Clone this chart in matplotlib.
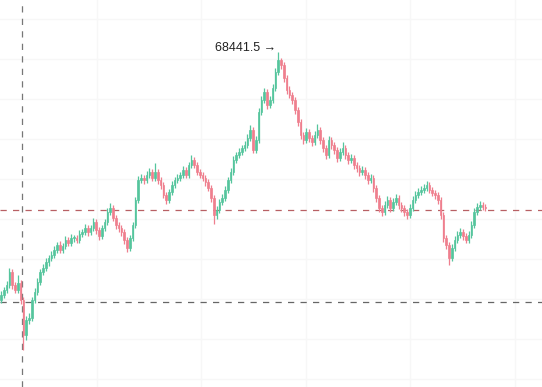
"""Candlestick chart with peak marker and reference lines."""
import matplotlib
matplotlib.use("Agg")
import matplotlib.pyplot as plt
from matplotlib.patches import Rectangle

# ── data ────────────────────────────────────────────────────────────────
FIRST_OPEN = 58520

closes = [
    58720, 58920, 59120, 59640, 59120, 58920, 59200, 58520, 57120, 57720,
    57800, 58520, 58840, 59240, 59640, 59800, 60040, 60200, 60320, 60520,
    60720, 60520, 60680, 60920, 60800, 61000, 61000, 60920, 61160, 61240,
    61400, 61240, 61400, 61640, 61320, 61080, 61400, 61640, 62040, 62200,
    61800, 61520, 61400, 61240, 60920, 60600, 61000, 61520, 62520, 63320,
    63400, 63320, 63520, 63640, 63400, 63640, 63320, 63120, 62720, 62520,
    62840, 63120, 63320, 63400, 63520, 63720, 63520, 63920, 64120, 63920,
    63640, 63520, 63400, 63240, 63000, 62600, 61920, 62120, 62440, 62600,
    62920, 63320, 63640, 64120, 64320, 64440, 64600, 64720, 65000, 65320,
    64520, 64920, 66040, 66520, 66840, 66320, 66520, 67000, 67640, 68120,
    67920, 67400, 66920, 66720, 66520, 66120, 65640, 65120, 64920, 65240,
    65000, 64840, 65120, 65320, 64920, 64600, 64320, 64920, 64720, 64520,
    64200, 64440, 64600, 64320, 64120, 64200, 63920, 63800, 63640, 63720,
    63520, 63320, 63400, 63000, 62600, 62200, 62040, 62320, 62520, 62200,
    62440, 62600, 62320, 62200, 62040, 61920, 62200, 62520, 62720, 62840,
    62920, 63000, 63120, 62920, 62800, 62720, 62520, 61920, 61000, 60720,
    60200, 60600, 60920, 61120, 61240, 61080, 60920, 61120, 61520, 62040,
    62240, 62320, 62240, 62200,
]

highs = [
    58880, 59040, 59280, 59800, 59760, 59240, 59520, 59320, 58640, 57880,
    58000, 58640, 59000, 59400, 59760, 59960, 60200, 60320, 60480, 60680,
    60840, 60880, 60800, 61080, 61040, 61160, 61120, 61120, 61320, 61360,
    61560, 61520, 61520, 61800, 61760, 61440, 61520, 61760, 62200, 62400,
    62320, 61920, 61640, 61520, 61360, 61040, 61120, 61640, 62640, 63480,
    63560, 63520, 63680, 63800, 63760, 64000, 63760, 63440, 63240, 62840,
    62960, 63280, 63440, 63560, 63640, 63880, 63840, 64040, 64320, 64240,
    64040, 63760, 63640, 63520, 63360, 63120, 62720, 62280, 62560, 62760,
    63080, 63440, 63800, 64280, 64440, 64600, 64720, 64880, 65160, 65520,
    65440, 65080, 66200, 66680, 67000, 66960, 66680, 67160, 67800, 68441.5,
    68200, 68040, 67520, 67080, 66840, 66640, 66240, 65760, 65240, 65400,
    65360, 65120, 65280, 65560, 65440, 65040, 64720, 65080, 65040, 64840,
    64640, 64600, 64840, 64720, 64440, 64360, 64320, 64040, 63920, 63880,
    63840, 63640, 63560, 63520, 63120, 62720, 62320, 62480, 62680, 62640,
    62600, 62760, 62720, 62440, 62320, 62160, 62360, 62680, 62880, 63000,
    63080, 63160, 63280, 63240, 63040, 62920, 62840, 62640, 62040, 61120,
    60840, 60760, 61080, 61280, 61400, 61360, 61200, 61280, 61680, 62200,
    62400, 62480, 62440, 62360,
]

lows = [
    58400, 58600, 58800, 59000, 58960, 58800, 58800, 58360, 56520, 56920,
    57560, 57680, 58400, 58720, 59120, 59520, 59680, 59880, 60080, 60200,
    60400, 60400, 60400, 60560, 60680, 60680, 60840, 60800, 60800, 61040,
    61120, 61080, 61120, 61280, 61160, 60920, 60960, 61280, 61520, 61920,
    61680, 61360, 61240, 61080, 60760, 60440, 60480, 60880, 61400, 62400,
    63200, 63160, 63200, 63400, 63280, 63280, 63160, 62960, 62600, 62360,
    62400, 62720, 63000, 63200, 63280, 63400, 63400, 63400, 63800, 63800,
    63520, 63400, 63280, 63080, 62880, 62440, 61560, 61760, 62000, 62320,
    62480, 62800, 63200, 63520, 64000, 64200, 64320, 64480, 64600, 64880,
    64400, 64400, 64800, 65920, 66400, 66160, 66200, 66400, 66880, 67520,
    67760, 67240, 66760, 66600, 66360, 65960, 65480, 64960, 64760, 64800,
    64840, 64680, 64720, 65000, 64760, 64440, 64160, 64200, 64560, 64360,
    64040, 64080, 64320, 64160, 63960, 64000, 63760, 63640, 63480, 63520,
    63360, 63160, 63200, 62840, 62440, 62040, 61880, 61920, 62200, 62040,
    62080, 62320, 62160, 62040, 61880, 61760, 61800, 62080, 62400, 62600,
    62720, 62800, 62880, 62800, 62680, 62560, 62360, 61760, 60840, 60560,
    59920, 60080, 60480, 60800, 61000, 60920, 60800, 60800, 61000, 61400,
    61920, 62120, 62120, 62080,
]

opens = [FIRST_OPEN] + closes[:-1]

LAST_PRICE_LINE = 62120
LOW_LINE = 58440
MARKER_INDEX = 7.5

UP_COLOR = "#55c59d"
DOWN_COLOR = "#ef7f8e"

# ── figure ──────────────────────────────────────────────────────────────
fig = plt.figure(figsize=(5.42, 3.87), dpi=100)
ax = fig.add_axes([0, 0, 1, 1])

# pixel mapping: ~2.8 px per candle, 40 price units per px
px_per_bar = 2.8
ax.set_xlim(-1 / px_per_bar, (542 - 1) / px_per_bar)
ax.set_ylim(70520 - 40 * 387, 70520)

# faint grid
ax.set_xticks([34.3 + 37.3 * k for k in range(5)])
ax.set_yticks([69760 - 1600 * k for k in range(10)])
ax.grid(True, color="#f7f7f7", lw=1)
ax.tick_params(length=0, labelbottom=False, labelleft=False)
for s in ax.spines.values():
    s.set_visible(False)
ax.set_axisbelow(True)

# candles
body_w = 0.55
for i, (o, h, l, c) in enumerate(zip(opens, highs, lows, closes)):
    col = UP_COLOR if c >= o else DOWN_COLOR
    ax.vlines(i, l, h, color=col, lw=0.9, zorder=3)
    bottom = min(o, c)
    height = max(abs(c - o), 40)
    ax.add_patch(Rectangle((i - body_w / 2, bottom), body_w, height,
                           facecolor=col, edgecolor=col, lw=0.5, zorder=3))

# reference lines
ax.axhline(LAST_PRICE_LINE, color="#b86064", lw=0.9, ls=(0, (5, 5)), zorder=2)
ax.axhline(LOW_LINE, color="#666666", lw=0.9, ls=(0, (5, 5)), zorder=2)
ax.axvline(MARKER_INDEX, color="#777777", lw=0.9, ls=(0, (5, 5)), zorder=2)

# peak label
peak_i = max(range(len(highs)), key=lambda k: highs[k])
ax.text(peak_i - 0.8, highs[peak_i] + 150, f"{highs[peak_i]:.1f} →",
        ha="right", va="center", fontsize=9, color="#222222",
        family=["Liberation Sans", "DejaVu Sans"])

fig.savefig("out.png", dpi=100)
